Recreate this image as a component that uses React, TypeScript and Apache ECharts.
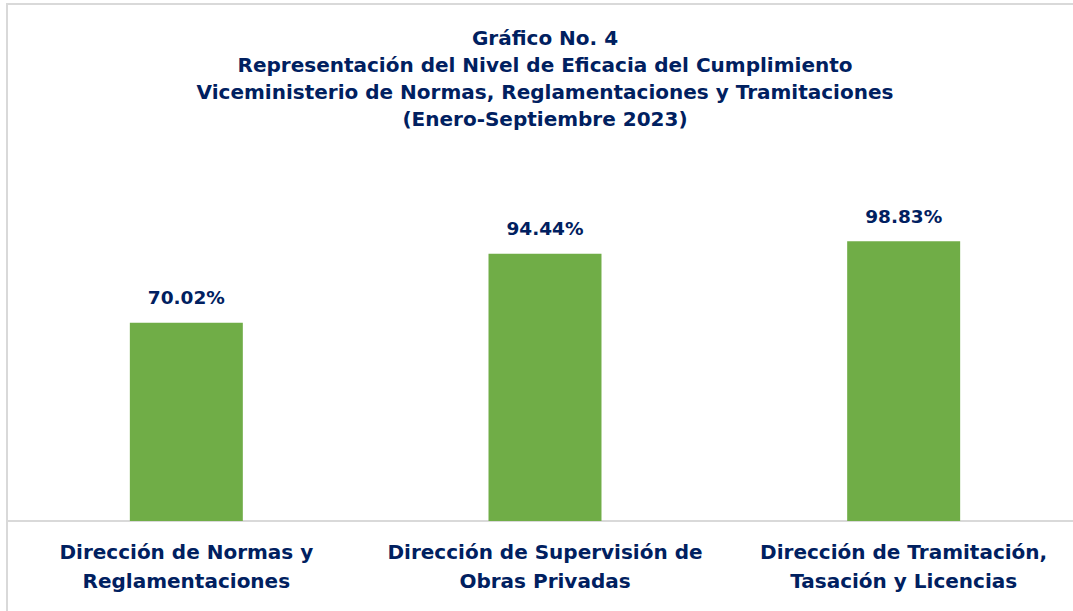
import React, { useEffect, useRef } from "react";
import * as echarts from "echarts";

const titleLines = [
  "Gráfico No. 4",
  "Representación del Nivel de Eficacia del Cumplimiento",
  "Viceministerio de Normas, Reglamentaciones y Tramitaciones",
  "(Enero-Septiembre 2023)",
];
const categories = [
  "Dirección de Normas y\nReglamentaciones",
  "Dirección de Supervisión de\nObras Privadas",
  "Dirección de Tramitación,\nTasación y Licencias",
];
const values = [70.02, 94.44, 98.83];

const NAVY = "#002060";
const GREEN = "#70AD47";
const FONT = "DejaVu Sans";

export default function App() {
  const ref = useRef<HTMLDivElement>(null);
  useEffect(() => {
    if (!ref.current) return;
    const chart = echarts.init(ref.current, null, { renderer: "svg" });
    chart.setOption({
      animation: false,
      backgroundColor: "#ffffff",
      title: {
        text: titleLines.join("\n"),
        left: 545,
        top: 24,
        padding: 0,
        textAlign: "center",
        textStyle: {
          fontFamily: FONT,
          fontWeight: "bold",
          fontSize: 20,
          lineHeight: 27,
          color: NAVY,
        },
      },
      graphic: [
        {
          type: "rect",
          shape: { x: 7, y: 4, width: 1200, height: 800 },
          style: { fill: "none", stroke: "#d9d9d9", lineWidth: 2 },
          silent: true,
          z: -1,
        },
      ],
      grid: { left: 7, top: 238, width: 1076, height: 283 },
      xAxis: {
        type: "category",
        data: categories,
        axisLine: { show: true, lineStyle: { color: "#d9d9d9", width: 2 } },
        axisTick: { show: false },
        axisLabel: {
          interval: 0,
          margin: 16,
          fontFamily: FONT,
          fontWeight: "bold",
          fontSize: 20,
          lineHeight: 29,
          color: NAVY,
        },
      },
      yAxis: {
        type: "value",
        min: 0,
        max: 100,
        show: false,
        splitLine: { show: false },
      },
      series: [
        {
          type: "bar",
          data: values,
          barWidth: "31.5%",
          itemStyle: { color: GREEN },
          label: {
            show: true,
            position: "top",
            distance: 15,
            formatter: (p: any) => p.value.toFixed(2) + "%",
            fontFamily: FONT,
            fontWeight: "bold",
            fontSize: 18.5,
            lineHeight: 20,
            color: NAVY,
          },
        },
      ],
    });
    return () => chart.dispose();
  }, []);
  return (
    <div
      ref={ref}
      style={{ position: "fixed", left: 0, top: 0, width: 1120, height: 640 }}
    />
  );
}
